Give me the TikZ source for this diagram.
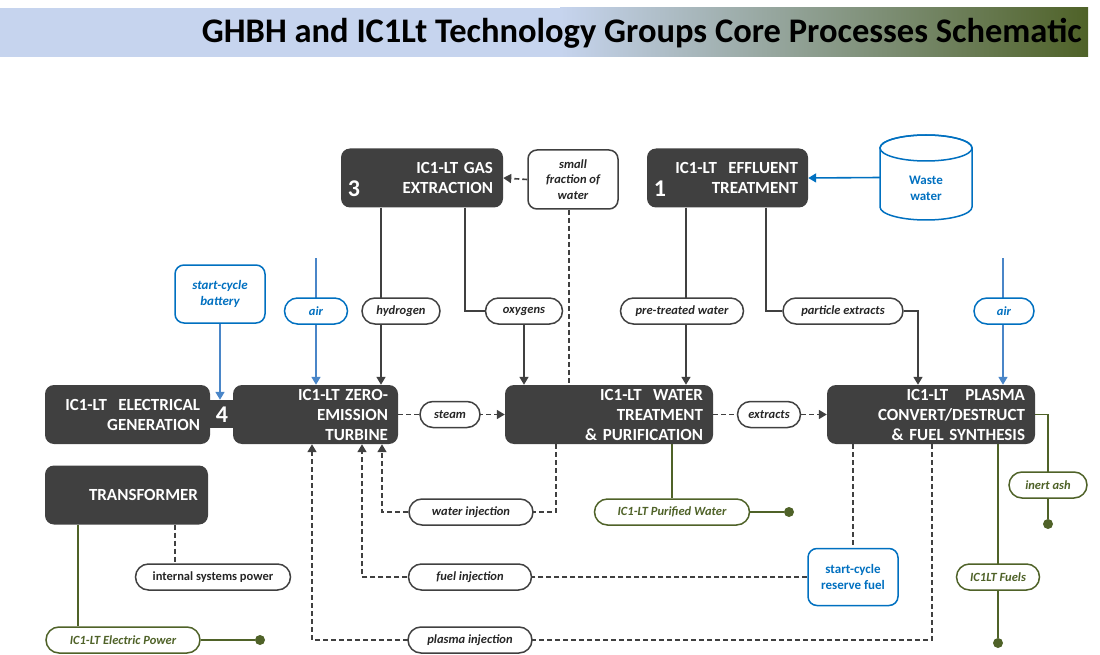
\documentclass[tikz,border=0pt]{standalone}
\usepackage{fontspec}
\setmainfont{Carlito}
\usetikzlibrary{arrows.meta,calc}
\definecolor{dg}{HTML}{404040}
\definecolor{lg}{HTML}{4F6228}
\definecolor{bl}{HTML}{0070C0}
\definecolor{bll}{HTML}{4A86C8}
\definecolor{tb}{HTML}{C6D4EE}
\definecolor{tg}{HTML}{4F6228}
\definecolor{tx}{HTML}{262626}
\pgfdeclarelayer{bg}
\pgfsetlayers{bg,main}
\tikzset{
  bigbox/.style={fill=dg, rounded corners=9pt, text=white, font=\bfseries\fontsize{17}{20}\selectfont, align=right, inner xsep=10pt, inner ysep=0pt, minimum height=59pt},
  numtxt/.style={text=white, font=\bfseries\fontsize{24}{26}\selectfont, inner sep=0pt},
  pill/.style={draw=dg, line width=1.5pt, fill=white, rounded corners=13pt, minimum height=26pt, inner sep=0pt, font=\bfseries\itshape\fontsize{12.5}{14}\selectfont, text=tx},
  gpill/.style={pill, draw=lg, text=lg},
  bpill/.style={pill, draw=bl, text=bl},
  bbox/.style={draw=bl, line width=1.5pt, fill=white, rounded corners=9pt, inner sep=0pt, align=center, text=bl, font=\bfseries\fontsize{13}{16}\selectfont},
  conn/.style={draw=dg, line width=1.6pt},
  arr/.style={conn, -{Triangle[width=9pt,length=8pt]}},
  bconn/.style={draw=bll, line width=1.6pt},
  barr/.style={bconn, -{Triangle[width=9pt,length=8pt]}},
  gconn/.style={draw=lg, line width=1.6pt},
  dsh/.style={dash pattern=on 5pt off 3pt},
  gdot/.style={circle, fill=lg, inner sep=0pt, minimum size=10pt}
}
\begin{document}
\begin{tikzpicture}[x=1pt,y=-1pt]
\useasboundingbox (0,0) rectangle (1100,655);
% title bar
\fill[tb] (0,8) rectangle (562,57);
\shade[left color=tb, right color=tg] (560,8) rectangle (1088,57);
\node[anchor=east, inner sep=0pt, font=\bfseries\fontsize{34.5}{40}\selectfont, text=black] (title) at (1082,33) {GHBH and IC1Lt Technology Groups Core Processes Schematic};

% main boxes
\node[bigbox, minimum width=162pt, text width=142pt] (gas) at (422,178) {IC1-LT GAS\\EXTRACTION};
\node[numtxt] (n3) at (354,189) {3};
\node[draw=dg, line width=1.5pt, fill=white, rounded corners=9pt, minimum width=90pt, minimum height=59pt, inner sep=0pt, align=center, text=tx, font=\bfseries\itshape\fontsize{12.5}{15.5}\selectfont] (frac) at (573,179.5) {small\\fraction of\\water};
\node[bigbox, minimum width=161pt, text width=141pt] (eff) at (727.5,178) {IC1-LT~~EFFLUENT\\TREATMENT};
\node[numtxt] (n1) at (660,189) {1};

% waste water cylinder
\node[minimum width=92pt, minimum height=85pt, inner sep=0pt] (waste) at (926,177.5) {};
\draw[bl, line width=1.5pt, fill=white] (880,148) -- (880,207) arc (180:360:46pt and 13pt) -- (972,148) arc (0:180:46pt and 13pt);
\draw[bl, line width=1.5pt] (926,148) ellipse (46pt and 13pt);
\node[text=bl, align=center, font=\bfseries\fontsize{13}{16}\selectfont] (wtxt) at (926,188) {Waste\\water};

\node[bigbox, minimum width=165pt, text width=145pt] (elec) at (127.5,414.5) {IC1-LT~~ELECTRICAL\\GENERATION};
\node[fill=dg, minimum width=34pt, minimum height=28pt, inner sep=0pt] (band) at (221.5,414) {};
\node[numtxt] (n4) at (222,415) {4};
\node[bigbox, minimum width=165pt, text width=145pt] (turb) at (315.5,414.5) {IC1-LT ZERO-\\EMISSION\\TURBINE};
\node[bigbox, minimum width=208pt, text width=188pt] (water) at (609,414.5) {IC1-LT~~WATER\\TREATMENT\\\& PURIFICATION};
\node[bigbox, minimum width=208pt, text width=188pt] (plasma) at (931,414.5) {IC1-LT~~~PLASMA\\CONVERT/DESTRUCT\\\& FUEL SYNTHESIS};
\node[bigbox, minimum width=163pt, text width=143pt] (trans) at (126.5,495) {TRANSFORMER};

% blue boxes
\node[bbox, font=\bfseries\itshape\fontsize{13}{16}\selectfont, minimum width=90pt, minimum height=58pt] (batt) at (220,294) {start-cycle\\battery};
\node[bbox, minimum width=90pt, minimum height=57pt] (reserve) at (853,577) {start-cycle\\reserve fuel};

% pills
\node[bpill, minimum width=63pt] (airL) at (316,311) {air};
\node[pill, minimum width=78pt] (hyd) at (401,311) {hydrogen};
\node[pill, minimum width=77pt] (oxy) at (524,311) {oxygens};
\node[pill, minimum width=123pt] (pre) at (682,311) {pre-treated water};
\node[pill, minimum width=120pt] (part) at (843,311) {particle extracts};
\node[bpill, minimum width=60pt] (airR) at (1004,311) {air};
\node[pill, minimum width=60pt] (steam) at (450,414.5) {steam};
\node[pill, minimum width=63pt] (extr) at (769,414.5) {extracts};
\node[pill, minimum width=124pt] (wat) at (471,512) {water injection};
\node[gpill, minimum width=155pt] (pur) at (672,512) {IC1-LT Purified Water};
\node[pill, minimum width=123pt] (fuel) at (470,577) {fuel injection};
\node[pill, minimum width=124pt] (plas) at (470,640) {plasma injection};
\node[pill, font=\bfseries\fontsize{12.5}{14}\selectfont, minimum width=155pt] (isp) at (213,577) {internal systems power};
\node[gpill, minimum width=154pt] (ep) at (123,640) {IC1-LT Electric Power};
\node[gpill, minimum width=78pt] (ash) at (1048,485) {inert ash};
\node[gpill, minimum width=83pt] (fuels) at (998,577) {IC1LT Fuels};

% dots
\node[gdot] (d1) at (789,512) {};
\node[gdot] (d2) at (260,640) {};
\node[gdot] (d3) at (1048,524) {};
\node[gdot] (d4) at (998,643) {};

\coordinate (airLtop) at (316,258);
\coordinate (airRtop) at (1003,258);

\begin{pgfonlayer}{bg}
\draw[arr,dsh] (frac.west) -- (gas.east);
\draw[bconn, -{Triangle[width=9pt,length=8pt]}, draw=bl] (waste.west) -- (eff.east);
\draw[arr] (gas.south -| 381,0) -- (turb.north -| 381,0);
\draw[conn] (gas.south -| 465,0) |- (oxy.west);
\draw[arr] (oxy.south) -- (water.north -| oxy.south);
\draw[conn,dsh] (frac.south -| 569,0) -- (water.north -| 569,0);
\draw[arr] (eff.south -| 686,0) -- (water.north -| 686,0);
\draw[conn] (eff.south -| 766,0) |- (part.west);
\draw[arr] (part.east) -| (plasma.north -| 918,0);
\draw[barr] (airLtop) -- (turb.north -| airLtop);
\draw[barr] (batt.south) -- (band.north -| batt.south);
\draw[barr] (airRtop) -- (plasma.north -| airRtop);
\draw[arr,dsh] (turb.east) -- (water.west);
\draw[arr,dsh] (water.east) -- (plasma.west);
\draw[arr,dsh] (water.south -| 556,0) |- (wat.center) -| (turb.south -| 382,0);
\draw[arr,dsh] (reserve.west) -| (turb.south -| 362,0);
\draw[arr,dsh] (plasma.south -| 932,0) |- (plas.center) -| (turb.south -| 312,0);
\draw[conn,dsh] (plasma.south -| reserve.north) -- (reserve.north);
\draw[gconn] (water.south -| pur.north) -- (pur.north);
\draw[gconn] (pur.east) -- (d1);
\draw[gconn] (plasma.south -| d4) -- (d4);
\draw[gconn] (plasma.east) -| (d3);
\draw[conn,dsh] (trans.south -| 175,0) -- (isp.north -| 175,0);
\draw[gconn] (trans.south -| 78,0) -- (ep.north -| 78,0);
\draw[gconn] (ep.east) -- (d2);
\end{pgfonlayer}
\end{tikzpicture}
\end{document}
